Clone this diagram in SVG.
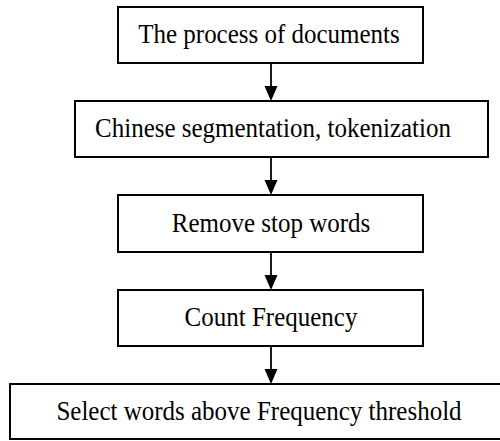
<svg xmlns="http://www.w3.org/2000/svg" width="500" height="441" viewBox="0 0 500 441">
<defs>
<style>
.box{fill:#fff;stroke:#000;stroke-width:2}
.lbl{font-family:"Liberation Serif","Times New Roman","DejaVu Serif",serif;font-size:25px;fill:#000;text-anchor:middle}
.edge{stroke:#000;stroke-width:1.8;fill:none}
.head{fill:#000}
</style>
</defs>
<rect width="500" height="441" fill="#fff"/>
<g id="connectors">
<line class="edge" x1="271" y1="63" x2="271" y2="88"/>
<path class="head" d="M264.5,86 L277.5,86 L271,101 Z"/>
<line class="edge" x1="271" y1="157" x2="271" y2="182"/>
<path class="head" d="M264.5,180 L277.5,180 L271,195 Z"/>
<line class="edge" x1="271" y1="252" x2="271" y2="277"/>
<path class="head" d="M264.5,275 L277.5,275 L271,290 Z"/>
<line class="edge" x1="271" y1="346" x2="271" y2="371"/>
<path class="head" d="M264.5,369 L277.5,369 L271,384 Z"/>
</g>
<g id="n1">
<rect class="box" x="118" y="7" width="305" height="56"/>
<text class="lbl" transform="translate(269,43) scale(1,1.08)">The process of documents</text>
</g>
<g id="n2">
<rect class="box" x="75" y="101" width="413" height="56"/>
<text class="lbl" transform="translate(273,137) scale(1,1.08)">Chinese segmentation, tokenization</text>
</g>
<g id="n3">
<rect class="box" x="118" y="195" width="305" height="57"/>
<text class="lbl" transform="translate(271,232) scale(1,1.08)">Remove stop words</text>
</g>
<g id="n4">
<rect class="box" x="118" y="290" width="305" height="56"/>
<text class="lbl" transform="translate(271,326) scale(1,1.08)">Count Frequency</text>
</g>
<g id="n5">
<rect class="box" x="10" y="384" width="495" height="55"/>
<text class="lbl" transform="translate(259,420) scale(1,1.08)">Select words above Frequency threshold</text>
</g>
</svg>
